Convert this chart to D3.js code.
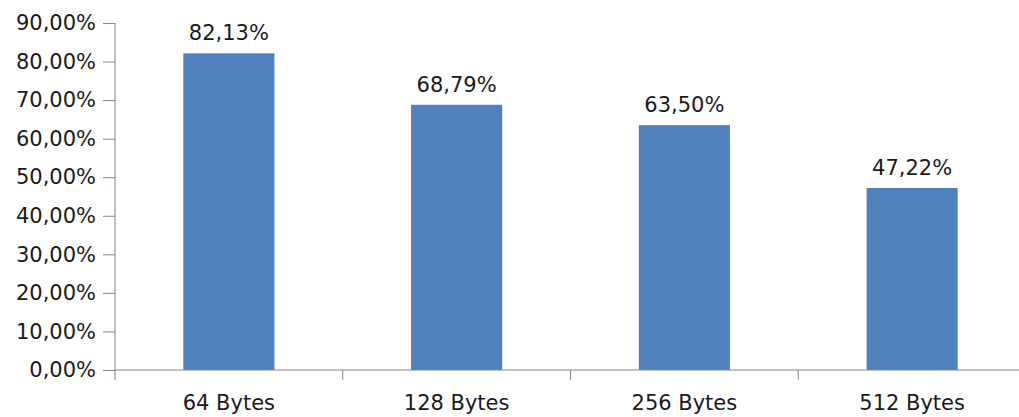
<!DOCTYPE html>
<html>
<head>
<meta charset="utf-8">
<script src="https://cdn.jsdelivr.net/npm/d3@7"></script>
<style>
  html, body { margin: 0; padding: 0; background: #fff; }
  svg text { font-family: "DejaVu Sans", sans-serif; fill: #1a1a1a; }
</style>
</head>
<body>
<svg id="chart" width="1019" height="417"></svg>
<script>
const categories = ["64 Bytes", "128 Bytes", "256 Bytes", "512 Bytes"];
const values = [82.13, 68.79, 63.50, 47.22];
const yTicks = [0, 10, 20, 30, 40, 50, 60, 70, 80, 90];

const svg = d3.select("#chart");
const plotLeft = 115, plotRight = 1026, plotTop = 23, plotBottom = 370;
const fontSize = 21;

const fmt = v => v.toFixed(2).replace(".", ",") + "%";

const x = d3.scaleBand().domain(categories).range([plotLeft, plotRight]).paddingInner(0.6).paddingOuter(0.3);
const xCat = d3.scaleBand().domain(categories).range([plotLeft, plotRight]);
const y = d3.scaleLinear().domain([0, 90]).range([plotBottom, plotTop]);

const axisColor = "#868686";

// y axis
const yAxis = svg.append("g").attr("transform", `translate(${plotLeft},0)`)
  .call(d3.axisLeft(y).tickValues(yTicks).tickFormat(fmt).tickSize(12).tickPadding(7));
yAxis.select(".domain").attr("stroke", axisColor).attr("d", `M0,${plotTop}V${plotBottom}`);
yAxis.selectAll(".tick line").attr("stroke", axisColor);
yAxis.selectAll(".tick text").attr("font-size", fontSize).attr("fill", "#1a1a1a")
  .attr("font-family", "DejaVu Sans, sans-serif");

// bars
svg.append("g").selectAll("rect").data(values).join("rect")
  .attr("x", (d, i) => x(categories[i]))
  .attr("width", x.bandwidth())
  .attr("y", d => y(d))
  .attr("height", d => y(0) - y(d))
  .attr("fill", "#4F81BD");

// x axis with boundary ticks between categories
const xg = svg.append("g");
xg.append("line").attr("x1", plotLeft).attr("x2", plotRight).attr("y1", plotBottom).attr("y2", plotBottom)
  .attr("stroke", axisColor);
xg.selectAll("line.tk").data(categories.map(c => xCat(c)).concat([plotRight])).join("line")
  .attr("class", "tk")
  .attr("x1", d => d).attr("x2", d => d)
  .attr("y1", plotBottom).attr("y2", plotBottom + 10)
  .attr("stroke", axisColor);
xg.selectAll("text").data(categories).join("text")
  .attr("x", d => xCat(d) + xCat.bandwidth() / 2)
  .attr("y", 410)
  .attr("text-anchor", "middle")
  .attr("font-size", fontSize)
  .text(d => d);

// value labels
svg.append("g").selectAll("text").data(values).join("text")
  .attr("x", (d, i) => x(categories[i]) + x.bandwidth() / 2)
  .attr("y", d => y(d) - 13)
  .attr("text-anchor", "middle")
  .attr("font-size", fontSize)
  .text(d => fmt(d));
</script>
</body>
</html>
